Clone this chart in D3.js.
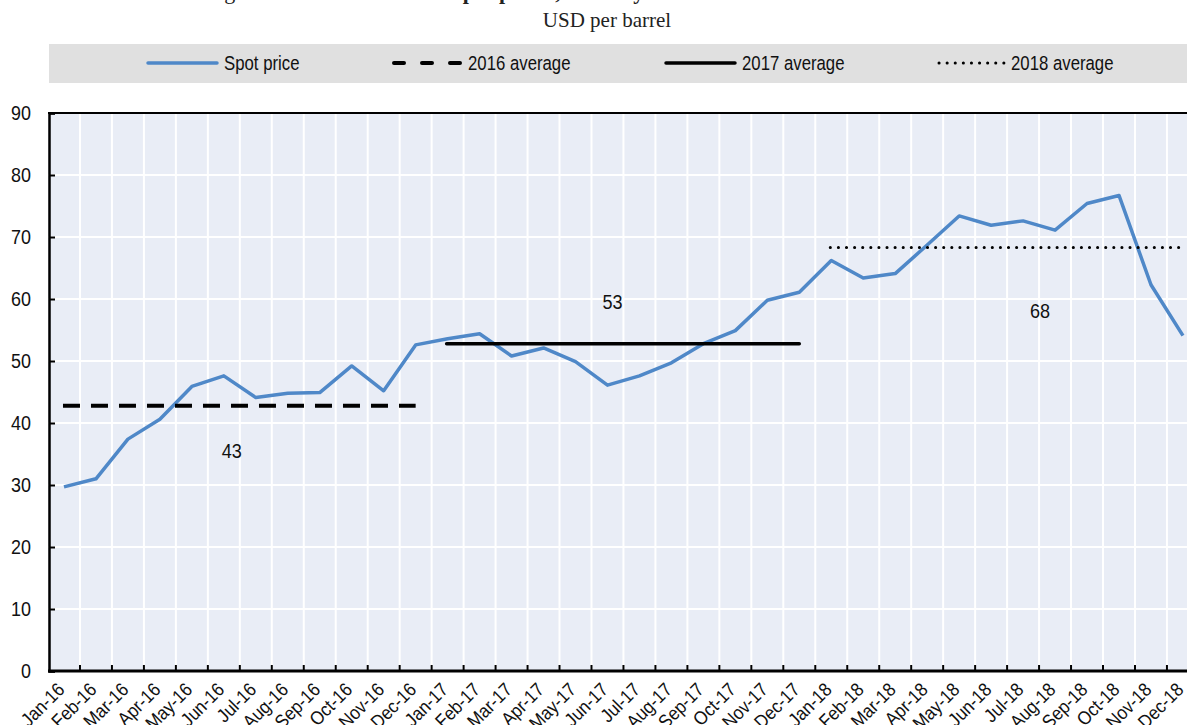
<!DOCTYPE html>
<html>
<head>
<meta charset="utf-8">
<script src="https://cdn.jsdelivr.net/npm/d3@7"></script>
<style>
  html, body { margin: 0; padding: 0; background: #ffffff; overflow: hidden; }
  svg { display: block; }
  .sans { font-family: "Liberation Sans", Arial, sans-serif; }
  .serif { font-family: "Liberation Serif", "DejaVu Serif", serif; }
</style>
</head>
<body>
<svg id="chart" width="1187" height="725"></svg>
<script>
// Monthly categories (tick labels)
const months = [
  "Jan-16","Feb-16","Mar-16","Apr-16","May-16","Jun-16","Jul-16","Aug-16","Sep-16","Oct-16","Nov-16","Dec-16",
  "Jan-17","Feb-17","Mar-17","Apr-17","May-17","Jun-17","Jul-17","Aug-17","Sep-17","Oct-17","Nov-17","Dec-17",
  "Jan-18","Feb-18","Mar-18","Apr-18","May-18","Jun-18","Jul-18","Aug-18","Sep-18","Oct-18","Nov-18","Dec-18"
];

// Spot price, USD per barrel
const spotPrice = [
  29.7, 31.0, 37.4, 40.6, 45.9, 47.6, 44.1, 44.8, 44.9, 49.2, 45.2, 52.6,
  53.6, 54.4, 50.8, 52.1, 49.9, 46.1, 47.6, 49.7, 52.8, 54.9, 59.8, 61.1,
  66.2, 63.4, 64.1, 68.7, 73.4, 71.9, 72.6, 71.1, 75.4, 76.7, 62.3, 54.1
];

// Annual averages
const years = ["2016", "2017", "2018"];
const annualAverage = [42.8, 52.8, 68.3];

const yTicks = [0, 10, 20, 30, 40, 50, 60, 70, 80, 90];

const svg = d3.select("#chart");

// Condensed look for the sans-serif texts
const narrow = 0.86;

// Plot geometry
const plotLeft = 48, plotTop = 113, plotBottom = 671, band = 31.97;
const plotRight = plotLeft + band * months.length;

const x = d3.scaleBand().domain(months).range([plotLeft, plotRight]).padding(0);
const y = d3.scaleLinear().domain([0, 90]).range([plotBottom, plotTop]);
const cx = m => x(m) + x.bandwidth() / 2;

// Title (last line, running off the top) and unit
svg.append("text")
  .attr("class", "serif")
  .attr("x", 206).attr("y", -1.5)
  .attr("font-size", 22).attr("fill", "#222")
  .call(t => {
    t.append("tspan").text("Figure 1.4. ");
    t.append("tspan").attr("font-weight", "bold").text("Brent crude oil spot prices, monthly");
  });

svg.append("text")
  .attr("class", "serif")
  .attr("x", 607).attr("y", 27)
  .attr("text-anchor", "middle")
  .attr("font-size", 21).attr("fill", "#222")
  .text("USD per barrel");

// Legend
const legendY = 63;
svg.append("rect")
  .attr("x", 49).attr("y", 44).attr("width", 1187 - 49).attr("height", 39)
  .attr("fill", "#e0e0e0");

const legendItems = [
  { label: "Spot price", x0: 148, x1: 217, color: "#4f88c8", width: 3.5, dash: null },
  { label: "2016 average", x0: 394, x1: 461, color: "#000", width: 4, dash: "10,18" },
  { label: "2017 average", x0: 666, x1: 735, color: "#000", width: 3.5, dash: null },
  { label: "2018 average", x0: 939, x1: 1004, color: "#000", width: 3, dash: "0.1,8" }
];
const lg = svg.append("g").attr("class", "sans");
legendItems.forEach(it => {
  lg.append("line")
    .attr("x1", it.x0).attr("x2", it.x1).attr("y1", legendY).attr("y2", legendY)
    .attr("stroke", it.color).attr("stroke-width", it.width)
    .attr("stroke-linecap", "round")
    .attr("stroke-dasharray", it.dash);
  lg.append("text")
    .attr("transform", `translate(${it.x1 + 7},${legendY}) scale(${narrow},1)`)
    .attr("dy", "0.35em")
    .attr("font-size", 19.5).attr("fill", "#111")
    .text(it.label);
});

// Plot background
svg.append("rect")
  .attr("x", plotLeft).attr("y", plotTop)
  .attr("width", plotRight - plotLeft).attr("height", plotBottom - plotTop)
  .attr("fill", "#e9edf6");

// Grid
const grid = svg.append("g");
months.slice(1).forEach(m => {
  grid.append("line")
    .attr("x1", x(m)).attr("x2", x(m)).attr("y1", plotTop).attr("y2", plotBottom)
    .attr("stroke", "#fff").attr("stroke-width", 2);
});
yTicks.filter(v => v > 0 && v < 90).forEach(v => {
  grid.append("line")
    .attr("x1", plotLeft).attr("x2", plotRight).attr("y1", y(v)).attr("y2", y(v))
    .attr("stroke", "#fff").attr("stroke-width", 2);
});

// Top border
svg.append("line")
  .attr("x1", plotLeft).attr("x2", plotRight).attr("y1", plotTop).attr("y2", plotTop)
  .attr("stroke", "#000").attr("stroke-width", 2);

// Y axis
const yAxis = d3.axisLeft(y).tickValues(yTicks).tickSize(-6).tickFormat(() => "");
const gy = svg.append("g")
  .attr("class", "sans")
  .attr("transform", `translate(${plotLeft + 1},0)`)
  .call(yAxis);
gy.select(".domain").attr("stroke", "#000").attr("stroke-width", 2.5);
gy.selectAll(".tick line").attr("stroke", "#000").attr("stroke-width", 2);
svg.append("g").attr("class", "sans")
  .selectAll("text").data(yTicks).join("text")
  .attr("transform", v => `translate(31,${y(v)}) scale(0.92,1)`)
  .attr("text-anchor", "end")
  .attr("dy", "0.35em")
  .attr("font-size", 19.5).attr("fill", "#111")
  .text(v => v);

// X axis: ticks on band boundaries, labels at band centres
const gx = svg.append("g").attr("class", "sans");
gx.append("line")
  .attr("x1", plotLeft).attr("x2", plotRight).attr("y1", plotBottom).attr("y2", plotBottom)
  .attr("stroke", "#000").attr("stroke-width", 3);
months.slice(1).forEach(m => {
  gx.append("line")
    .attr("x1", x(m)).attr("x2", x(m)).attr("y1", plotBottom).attr("y2", plotBottom - 6)
    .attr("stroke", "#000").attr("stroke-width", 2);
});
gx.selectAll("text.xl").data(months).join("text")
  .attr("class", "xl")
  .attr("transform", m => `translate(${cx(m) - 3},${plotBottom + 15}) rotate(-45) scale(0.9,1)`)
  .attr("text-anchor", "end")
  .attr("dy", "0.35em")
  .attr("font-size", 19).attr("fill", "#111")
  .text(m => m);

// Spot price line
const line = d3.line().x((d, i) => cx(months[i])).y(d => y(d));
svg.append("path")
  .datum(spotPrice)
  .attr("d", line)
  .attr("fill", "none")
  .attr("stroke", "#4f88c8")
  .attr("stroke-width", 3.5)
  .attr("stroke-linejoin", "round");

// Annual average lines with their value labels
const avgStyle = [
  { dash: "17,11", width: 4, cap: "butt", endTrim: 0 },
  { dash: null, width: 3.5, cap: "round", endTrim: 0 },
  { dash: "0.1,8", width: 3, cap: "round", endTrim: 4 }
];
const labelPlacement = [
  { dx: 8, dv: -7.3 },
  { dx: 5, dv: 6.8 },
  { dx: 49, dv: -10.1 }
];
years.forEach((yr, k) => {
  const first = months[k * 12], last = months[k * 12 + 11];
  const v = annualAverage[k];
  svg.append("line")
    .attr("x1", cx(first) - 1).attr("x2", cx(last) - avgStyle[k].endTrim)
    .attr("y1", y(v)).attr("y2", y(v))
    .attr("stroke", "#000")
    .attr("stroke-width", avgStyle[k].width)
    .attr("stroke-linecap", avgStyle[k].cap)
    .attr("stroke-dasharray", avgStyle[k].dash);
  const anchorMonth = months[k * 12 + 5];
  svg.append("text")
    .attr("class", "sans")
    .attr("transform", `translate(${cx(anchorMonth) + labelPlacement[k].dx},${y(v + labelPlacement[k].dv)}) scale(${narrow},1)`)
    .attr("dy", "0.35em")
    .attr("text-anchor", "middle")
    .attr("font-size", 21).attr("fill", "#111")
    .text(d3.format(".0f")(v));
});
</script>
</body>
</html>
